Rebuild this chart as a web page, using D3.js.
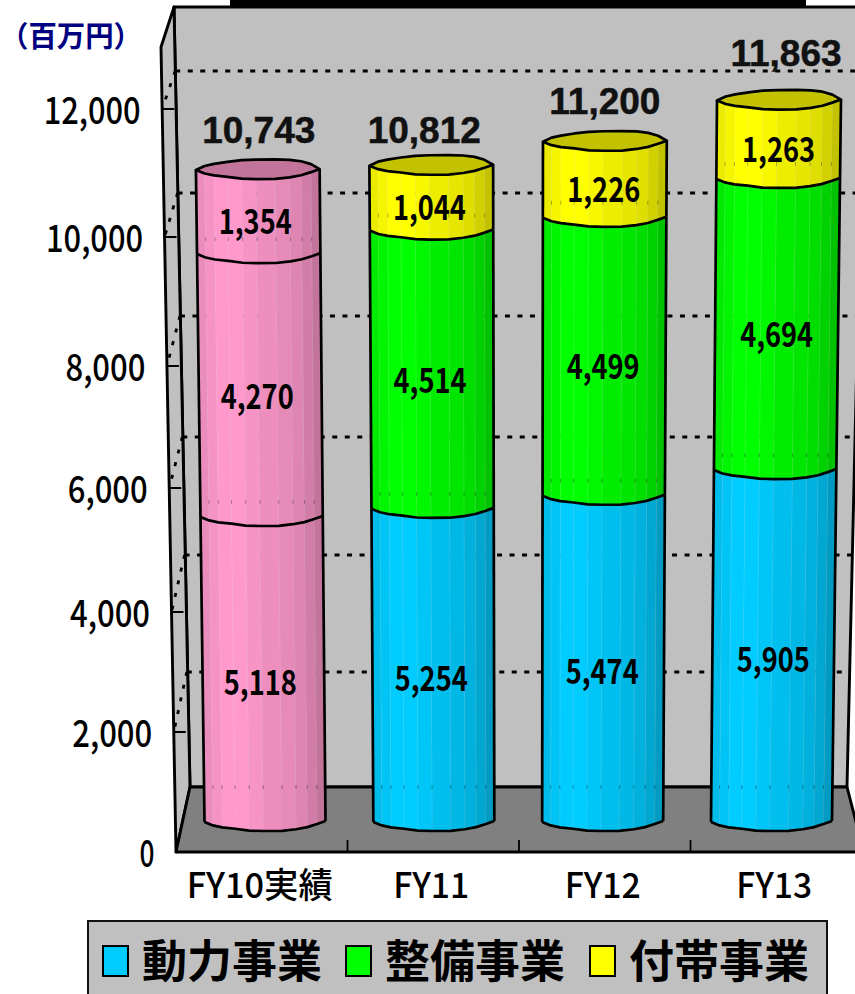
<!DOCTYPE html>
<html><head><meta charset="utf-8">
<script src="https://cdn.jsdelivr.net/npm/d3@7"></script>
<style>html,body{margin:0;padding:0;background:#fff;overflow:hidden}svg{display:block}</style>
</head><body><svg id="c" width="855" height="994"></svg>
<script>
const categories = ["FY10実績","FY11","FY12","FY13"];
const seriesNames = ["動力事業","整備事業","付帯事業"];
const seriesColors = ["#00CCFF","#00FF00","#FFFF00"];
const actualColor = "#FF99CC";
const power = [5118,5254,5474,5905];
const maintenance = [4270,4514,4499,4694];
const ancillary = [1354,1044,1226,1263];
const totals = [10743,10812,11200,11863];
const yTicks = [0,2000,4000,6000,8000,10000,12000];
const totalNudge = [[1,0],[-7,4],[0,-1],[7,-8]];
const labelNudgeX = [-3,-2,-1,0];
const labelNudgeY = [24.5,21,21];

const svg = d3.select("#c");
const INK = "#000";
const SANS = "'Noto Sans CJK JP','Noto Sans',sans-serif";

// projected scales for the 3-D frame
const yCyl = d3.scaleLinear().domain([0,6000,12000]).range([822,464.4,92]);
const yFront = d3.scaleLinear().domain(yTicks).range([852,732,612,488,366,237,109]);
const yBack = d3.scaleLinear().domain(yTicks).range([787,672,555,437,316,193,71]);
const xCat = d3.scaleBand().domain(categories).range([176,862]);
const xBase = d3.scalePoint().domain(categories).range([265,771.5]);
const xTop = d3.scalePoint().domain(categories).range([257,779]);
const leftEdge = y => 161 + (y-47)*15/805;
const backEdge = y => 174 + (y-7)*15/780;
const rightEdge = y => 847 + (787-y)*15/780;

// frame
svg.append("rect").attr("x",230).attr("y",0).attr("width",576).attr("height",7).attr("fill","#000");
const frame = {stroke:INK,"stroke-width":2.9,"stroke-linejoin":"round"};
function poly(pts,fill,attrs){
  const p = svg.append("path").attr("d",d3.line()(pts)+"Z").attr("fill",fill);
  Object.entries(attrs||{}).forEach(([k,v])=>p.attr(k,v));
  return p;
}
poly([[174,7],[865,7],[rightEdge(787),787],[190,787]],"#C0C0C0",frame);
poly([[174,7],[161,47],[176,852],[190,787]],"#C0C0C0",frame);
poly([[190,787],[847,787],[865,857],[865,852],[176,852]],"#808080",frame);

// gridlines
yTicks.forEach(t=>{
  const yb = yBack(t), yf = yFront(t);
  const g = svg.append("g").attr("fill","none").attr("stroke",INK);
  if(t>0){
    g.append("line").attr("x1",backEdge(yb)).attr("y1",yb).attr("x2",rightEdge(yb)).attr("y2",yb).attr("stroke-width",3).attr("stroke-dasharray","5 7.5");
    g.append("line").attr("x1",backEdge(yb)).attr("y1",yb).attr("x2",leftEdge(yf)).attr("y2",yf).attr("stroke-dasharray","4 9").attr("stroke-width",2.8);
    g.append("line").attr("x1",leftEdge(yf)).attr("y1",yf).attr("x2",leftEdge(yf)+12).attr("y2",yf).attr("stroke-width",2);
  }
});
// category ticks
xCat.domain().slice(1).forEach(c=>{
  const x = xCat(c);
  svg.append("line").attr("x1",x).attr("x2",x).attr("y1",840).attr("y2",852).attr("stroke",INK).attr("stroke-width",1.8);
});

// cylinders
const facets = [0,.07,.146,.254,.37,.486,.64,.757,.85,.93,1];
const shades = [.92,.96,1,1,.97,.93,.9,.87,.82,.76];
const frontDrop = [0,3.5,5.5,7,9,9.5,9.5,8,6,3,0];
const backRise = [0,4,6,8,9.5,10,10,9.5,8,5,0];
const shade = (c,k)=>{const r=d3.rgb(c);return d3.rgb(r.r*k,r.g*k,r.b*k).formatHex();};
function geom(cat,y){
  const t = (822-y)/(822-100);
  return {c:xBase(cat)+(xTop(cat)-xBase(cat))*t, w:121+3*t};
}
function rim(cat,v,offs,sign){
  const y = yCyl(v), g = geom(cat,y);
  return facets.map((u,i)=>[g.c-g.w/2+g.w*u, y+sign*offs[i]-u]);
}
const stacks = categories.map((c,i)=>[power[i],maintenance[i],ancillary[i]]);
categories.forEach((cat,ci)=>{
  let acc = 0;
  const g = svg.append("g");
  stacks[ci].forEach((v,si)=>{
    const color = ci===0 ? actualColor : seriesColors[si];
    const lo = rim(cat,acc,frontDrop,1), hi = rim(cat,acc+v,frontDrop,1);
    shades.forEach((k,i)=>{
      const f = shade(color,k);
      g.append("path").attr("d",d3.line()([lo[i],lo[i+1],hi[i+1],hi[i]])+"Z").attr("fill",f).attr("stroke",f).attr("stroke-width",.4);
      if(i>0){
        g.append("line").attr("x1",lo[i][0]).attr("y1",lo[i][1]).attr("x2",hi[i][0]).attr("y2",hi[i][1]).attr("stroke","#fff").attr("stroke-opacity",.12).attr("stroke-width",1);
        const yRear = (acc===0 ? yBack(0) : yCyl(acc)-15);
        g.append("line").attr("x1",lo[i][0]).attr("x2",lo[i][0]).attr("y1",yRear-2).attr("y2",yRear+2).attr("stroke","#000").attr("stroke-opacity",.3).attr("stroke-width",1);
      }
    });
    g.append("path").attr("d",d3.line()(lo)).attr("fill","none").attr("stroke",INK).attr("stroke-width",2.7).attr("stroke-linejoin","round");
    g.append("path").attr("d",d3.line()([lo[0],hi[0]])).attr("stroke",INK).attr("stroke-width",2.7);
    g.append("path").attr("d",d3.line()([lo[10],hi[10]])).attr("stroke",INK).attr("stroke-width",2.7);
    acc += v;
  });
  const topColor = ci===0 ? actualColor : seriesColors[2];
  const front = rim(cat,acc,frontDrop,1), back = rim(cat,acc,backRise,-1);
  g.append("path").attr("d",d3.line()(front.concat(back.slice().reverse()))+"Z")
    .attr("fill",shade(topColor,.76)).attr("stroke",INK).attr("stroke-width",2.7).attr("stroke-linejoin","round");
});

function txt(s,x,y,size,anchor,opts){
  opts = opts||{};
  const t = svg.append("text").text(s).attr("x",x).attr("y",y).attr("font-size",size)
    .attr("text-anchor",anchor).attr("font-family",opts.family||SANS).attr("font-weight",opts.weight||500).attr("fill",opts.fill||"#000");
  if(opts.len){t.attr("textLength",opts.len).attr("lengthAdjust","spacingAndGlyphs");}
  if(opts.halo){t.attr("stroke",opts.fill||"#000").attr("stroke-width",opts.halo);}
  return t;
}
const fmt = d3.format(",");
// tick labels
yTicks.forEach(t=>{
  const yf = yFront(t);
  const len = t>=10000?97:(t===0?15:80);
  txt(fmt(t),leftEdge(yf)-21.5,yf+15,37,"end",{len});
});
txt("（百万円）",0,47,29,"start",{fill:"#000080",weight:700,len:142});

// data labels
categories.forEach((cat,ci)=>{
  let acc=0;
  stacks[ci].forEach((v,si)=>{
    const ym = yCyl(acc+v/2), g = geom(cat,ym);
    txt(fmt(v),g.c+labelNudgeX[ci],ym+labelNudgeY[si]+1,34,"middle",{len:73,weight:600});
    acc+=v;
  });
  const yt = yCyl(totals[ci]), gt = geom(cat,yt);
  txt(fmt(totals[ci]),gt.c+totalNudge[ci][0],yt-27+totalNudge[ci][1],37,"middle",{family:"'Liberation Sans',Arial,sans-serif",weight:700,fill:"#111",halo:.5});
  txt(cat,xCat(cat)+xCat.bandwidth()/2-2,898,35,"middle",{len:ci===0?146:76});
});

// legend
svg.append("rect").attr("x",88).attr("y",921).attr("width",739).attr("height",80).attr("fill","#C0C0C0").attr("stroke","#111").attr("stroke-width",2);
const legendX = d3.scaleOrdinal().domain(seriesNames).range([103,346,590]);
seriesNames.forEach((n,i)=>{
  svg.append("rect").attr("x",legendX(n)).attr("y",946).attr("width",25).attr("height",30).attr("fill",seriesColors[i]).attr("stroke","#000").attr("stroke-width",2);
  txt(n,legendX(n)+39,978,45,"start",{len:180,weight:700});
});
</script></body></html>
